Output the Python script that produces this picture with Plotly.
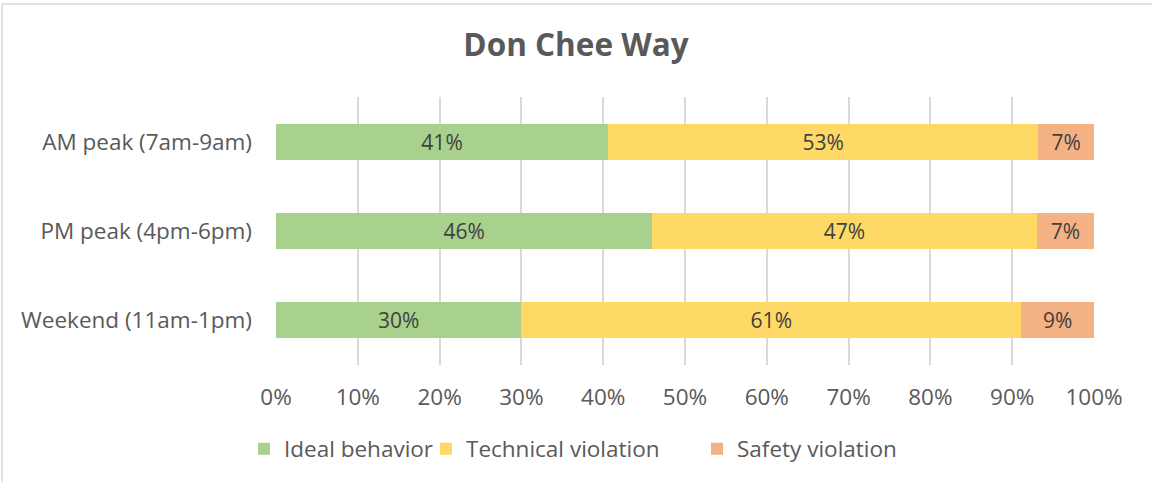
import plotly.graph_objects as go

categories = ["AM peak (7am-9am)", "PM peak (4pm-6pm)", "Weekend (11am-1pm)"]
ideal = [40.6, 46.0, 30.0]
technical = [52.6, 47.0, 61.1]
safety = [6.8, 7.0, 8.9]
series_names = ["Ideal behavior", "Technical violation", "Safety violation"]
colors = ["#A9D18E", "#FFD966", "#F4B183"]
tick_vals = [0, 10, 20, 30, 40, 50, 60, 70, 80, 90, 100]
tick_text = [f"{v}%" for v in tick_vals]

FONT = "Open Sans, Noto Sans, sans-serif"

W, H = 1152, 482
ml, mr, mt, mb = 276, 58, 97, 117
pw, ph = W - ml - mr, H - mt - mb

# desired left edge of legend text for each entry (pixels)
legend_text_x = [284, 466, 737]
legend_ids = ["legend", "legend2", "legend3"]

fig = go.Figure()
for name, vals, col, lid in zip(series_names, [ideal, technical, safety], colors, legend_ids):
    fig.add_trace(go.Bar(
        y=categories, x=vals, name=name, orientation="h",
        marker=dict(color=col, line=dict(width=0)),
        text=[f"{round(v):.0f}%" for v in vals],
        textposition="inside", insidetextanchor="middle",
        textfont=dict(color="#404040", size=21, family=FONT),
        hoverinfo="skip", legend=lid,
    ))

legend_common = dict(orientation="h", yanchor="middle", y=-(449 - (H - mb)) / ph,
                     xanchor="left", font=dict(size=22.5, color="#595959", family=FONT),
                     itemwidth=30, bgcolor="rgba(0,0,0,0)", borderwidth=0)
legends = {}
for lid, tx in zip(legend_ids, legend_text_x):
    legends[lid] = dict(legend_common, x=(tx - 40 - ml) / pw)

fig.update_layout(
    width=W, height=H,
    barmode="stack", bargap=0.6,
    paper_bgcolor="white", plot_bgcolor="white",
    margin=dict(l=ml, r=mr, t=mt, b=mb),
    title=dict(text="<b>Don Chee Way</b>", x=(576 - ml) / pw, xref="paper", xanchor="center",
               y=1 - 45 / H, yanchor="middle",
               font=dict(size=31.5, color="#595959", family=FONT)),
    font=dict(family=FONT, color="#595959"),
    showlegend=True,
    uniformtext=dict(mode="show", minsize=10),
    **legends,
)
fig.update_xaxes(range=[0, 100], tickvals=tick_vals, ticktext=tick_text,
                 showgrid=True, gridcolor="#D9D9D9", gridwidth=1.5,
                 zeroline=False, showline=False, ticks="",
                 tickfont=dict(size=22.5, color="#595959", family=FONT), ticklabelstandoff=16)
fig.update_yaxes(autorange="reversed", showgrid=False, showline=False, ticks="",
                 tickfont=dict(size=22.5, color="#595959", family=FONT), ticklabelstandoff=23)

# chart border (top & left visible)
fig.add_shape(type="line", xref="paper", yref="paper",
              x0=-(ml - 1.5) / pw, x1=(W - ml + 10) / pw, y0=1 + (mt - 4) / ph, y1=1 + (mt - 4) / ph,
              line=dict(color="#D9D9D9", width=1.5))
fig.add_shape(type="line", xref="paper", yref="paper",
              x0=-(ml - 2) / pw, x1=-(ml - 2) / pw, y0=-(mb + 10) / ph, y1=1 + (mt - 4) / ph,
              line=dict(color="#D9D9D9", width=1.5))

fig.write_html("out.html", config={"displayModeBar": False},
               post_script="document.body.style.margin='0';document.body.style.overflow='hidden';")
